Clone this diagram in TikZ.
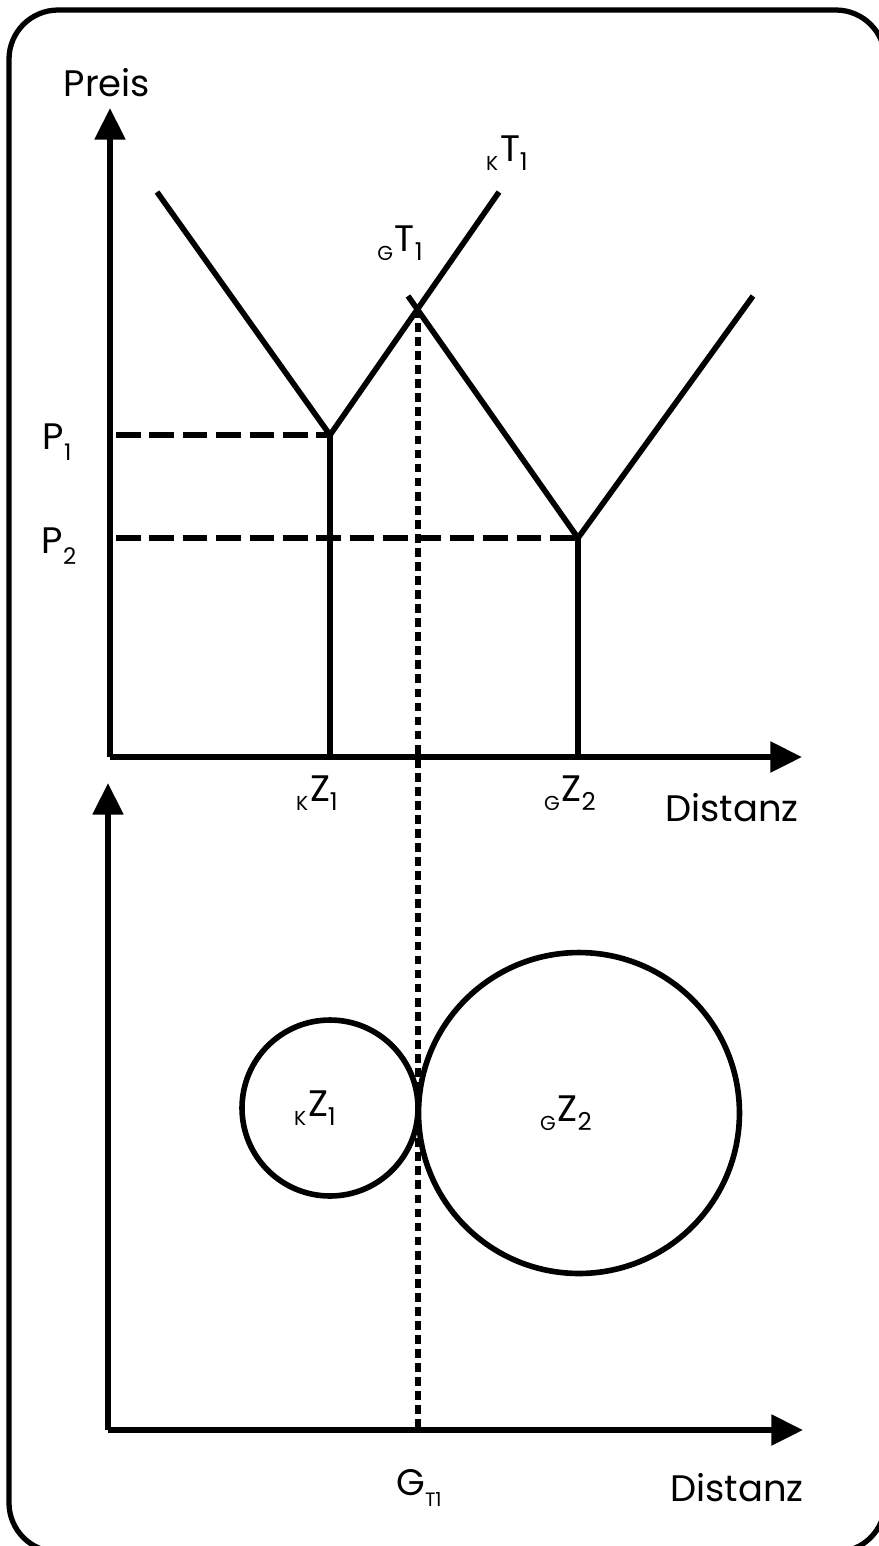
\documentclass[tikz,border=0pt]{standalone}
\usepackage{fontspec}
\setmainfont{Poppins}
\usetikzlibrary{arrows.meta, positioning}
% pre-subscript, letter, subscript
\newcommand{\presub}[3]{\raisebox{-5pt}{\fontsize{11.5}{12}\selectfont #1}\kern1pt#2\raisebox{-5pt}{\fontsize{14}{14}\selectfont #3}}
\newcommand{\lowsub}[3][13]{#2\raisebox{-6pt}{\fontsize{#1}{#1}\selectfont #3}}

\begin{document}
\begin{tikzpicture}[
  x=0.02cm, y=-0.02cm,
  frame/.style={line width=3pt, rounded corners=28pt},
  axis/.style={line width=3.2pt, -{Triangle[length=18pt, width=17pt]}},
  curve/.style={line width=3.2pt, line join=miter},
  pline/.style={line width=3.3pt, dash pattern=on 14pt off 5pt},
  gline/.style={line width=3.3pt, dash pattern=on 5pt off 3pt},
  zone/.style={circle, draw, line width=3.2pt, inner sep=0pt},
  lbl/.style={font=\fontsize{21}{24}\selectfont, inner sep=0pt}
]
  \useasboundingbox (0,0) rectangle (879,1546);
  \clip (0,0) rectangle (879,1546);
  \draw[frame] (9,10) rectangle (885,1552);

  % upper chart: price over distance
  \coordinate (o1) at (110,757);
  \coordinate (ytop) at (110,108);
  \coordinate (xend) at (802,757);
  \draw[axis] (o1) -- (ytop);
  \draw[axis] (o1) -- (xend);

  \coordinate (ka) at (157,192);
  \coordinate (kz) at (330,435);
  \coordinate (kt) at (499,192);
  \coordinate (ga) at (408,296);
  \coordinate (gz) at (578,538);
  \coordinate (gt) at (753,296);
  \coordinate (cross) at (418,309);
  \coordinate (kfoot) at (330,757);
  \coordinate (gfoot) at (578,757);

  \draw[curve] (ka) -- (kz) -- (kt);
  \draw[curve] (ga) -- (gz) -- (gt);
  \draw[curve] (kz) -- (kfoot);
  \draw[curve] (gz) -- (gfoot);

  \node[lbl] (preis) at (107,83) {Preis};
  \node[lbl] (p1) at (57,442) {\lowsub{P}{1}};
  \node[lbl] (p2) at (59,546) {\lowsub{P}{2}};
  \coordinate (p1l) at (116,435);
  \coordinate (p2l) at (116,538);
  \draw[pline] (p1l) -- (kz);
  \draw[pline] (p2l) -- (gz);

  \node[lbl] (kt1) at (507,153) {\presub{K}{T}{1}};
  \node[lbl] (gt1) at (400,243) {\presub{G}{T}{1}};
  \node[lbl] (kz1) at (317,793) {\presub{K}{Z}{1}};
  \node[lbl] (gz2) at (570,793) {\presub{G}{Z}{2}};
  \node[lbl] (dist1) at (732,808) {Distanz};

  % lower chart: market areas
  \coordinate (o2) at (108,1430);
  \coordinate (ytop2) at (108,783);
  \coordinate (xend2) at (803,1430);
  \draw[axis] (o2) -- (ytop2);
  \draw[axis] (o2) -- (xend2);

  \node[zone, minimum size=3.52cm] (kzone) at (330,1108) {};
  \node[zone, minimum size=6.42cm] (gzone) at (579,1113) {};
  \node[lbl] (kz1b) at (315,1108) {\presub{K}{Z}{1}};
  \node[lbl] (gz2b) at (566,1113) {\presub{G}{Z}{2}};

  \coordinate (gfoot2) at (418,1430);
  \draw[gline] (cross) -- (gfoot2);

  \node[lbl] (gt1b) at (419,1488) {\lowsub[11]{G}{T1}};
  \node[lbl] (dist2) at (737,1488) {Distanz};
\end{tikzpicture}
\end{document}
